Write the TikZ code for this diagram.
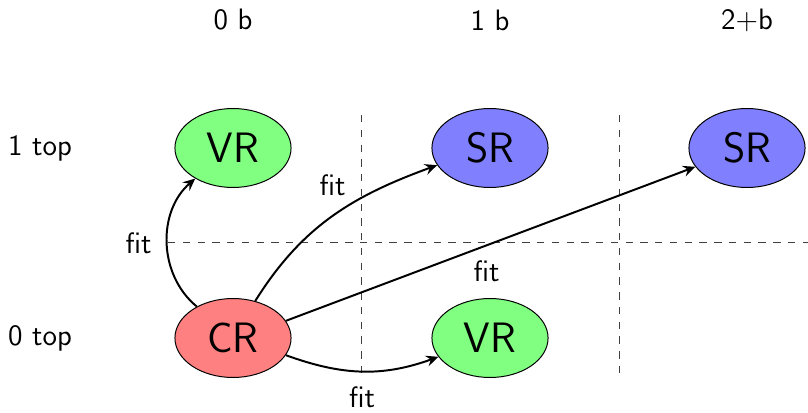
\documentclass[tikz,border=0pt]{standalone}
\usetikzlibrary{shapes.geometric,arrows.meta}
\begin{document}
\begin{tikzpicture}[x=0.4065pt,y=-0.4065pt,font=\sffamily\large,
  state/.style={ellipse,draw,minimum width=47.2pt,minimum height=32.1pt,inner sep=0pt,font=\sffamily\LARGE},
  grn/.style={state,fill=green!50},
  rd/.style={state,fill=red!50},
  blu/.style={state,fill=blue!50},
  edge/.style={thick,-{Stealth[length=5pt,width=4.5pt,inset=1.8pt]}},
  grid/.style={dashed,black!75,thin},
  lbl/.style={inner sep=1pt}]
\useasboundingbox (0,0) rectangle (808,412);
% column and row labels
\node (c0) at (233,20) {0 b};
\node (c1) at (490,20) {1 b};
\node (c2) at (747,20) {2+b};
\node (r1) at (40,148) {1 top};
\node (r0) at (40,338) {0 top};
% grid
\coordinate (v1t) at (361,115); \coordinate (v1b) at (361,376);
\coordinate (v2t) at (619,115); \coordinate (v2b) at (619,373);
\coordinate (hl) at (168,242); \coordinate (hr) at (808,242);
\draw[grid] (v1t) -- (v1b);
\draw[grid] (v2t) -- (v2b);
\draw[grid] (hl) -- (hr);
% nodes
\node[grn] (vr1) at (233,148) {VR};
\node[blu] (sr1) at (490,148) {SR};
\node[blu] (sr2) at (747,148) {SR};
\node[rd] (cr) at (233,338) {CR};
\node[grn] (vr0) at (490,338) {VR};
% edges
\draw[edge] (cr.139) to[bend left=50] node[lbl,pos=0.5,left=5pt] {fit} (vr1.219);
\draw[edge] (cr.59) to[out=58,in=200] node[lbl,pos=0.5,above=7pt] {fit} (sr1.198);
\draw[edge] (cr.18) -- node[lbl,pos=0.49,below=5pt] {fit} (sr2.200);
\draw[edge] (cr.-18) to[out=-20,in=200] node[lbl,pos=0.5,below=5pt] {fit} (vr0.200);
\end{tikzpicture}
\end{document}
